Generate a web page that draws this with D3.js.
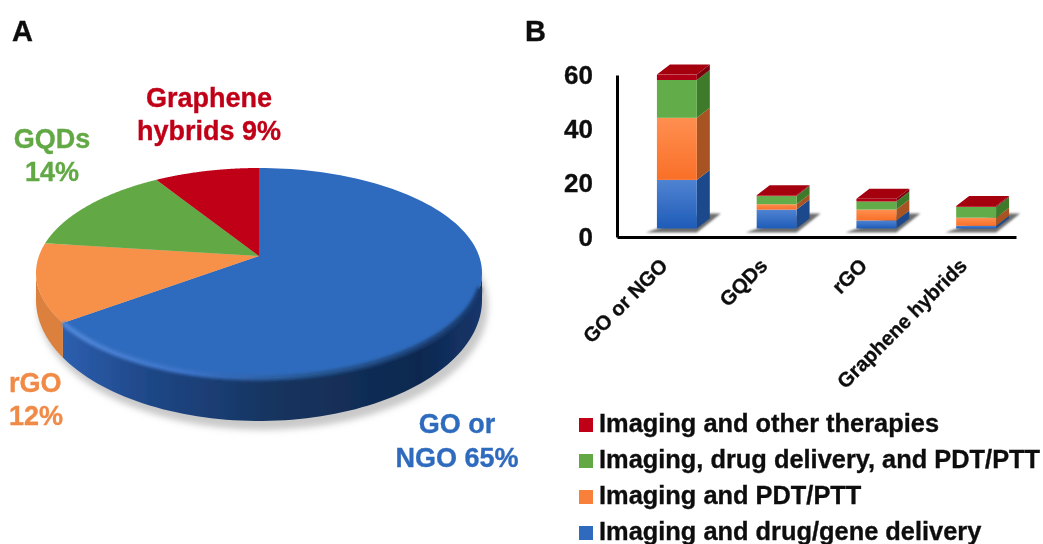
<!DOCTYPE html>
<html>
<head>
<meta charset="utf-8">
<script src="https://cdn.jsdelivr.net/npm/d3@7"></script>
<style>
    html, body { margin: 0; padding: 0; background: #fff; }
    text { font-family: "Liberation Sans", Arial, sans-serif; font-weight: bold; }
</style>
</head>
<body>
<svg id="chart" width="1043" height="544"></svg>
<script>
// panel A
const pieLabels = ["GO or NGO", "rGO", "GQDs", "Graphene hybrids"];
const pieValues = [65, 12, 14, 9];
const pieColors = ["#2f6bbd", "#f79149", "#62a945", "#c00018"];

// panel B
const categories = ["GO or NGO", "GQDs", "rGO", "Graphene hybrids"];
const seriesNames = ["Imaging and drug/gene delivery", "Imaging and PDT/PTT", "Imaging, drug delivery, and PDT/PTT", "Imaging and other therapies"];
const drugGene = [18, 7, 3, 1];
const pdtPtt = [23, 2, 4, 3];
const drugPdt = [14, 3, 3, 4];
const otherTherapies = [2, 0.3, 1, 0.3];
const yTicks = [0, 20, 40, 60];

const svg = d3.select("#chart");
const defs = svg.append("defs");

// the reference is a slightly soft raster
defs.append("filter").attr("id", "soft").append("feGaussianBlur").attr("stdDeviation", 0.55);
const shadowBlur = defs.append("filter").attr("id", "shadowBlur")
    .attr("x", "-20%").attr("y", "-50%").attr("width", "140%").attr("height", "200%");
shadowBlur.append("feGaussianBlur").attr("stdDeviation", 3);
const rimBlur = defs.append("filter").attr("id", "rimBlur")
    .attr("x", "-10%").attr("y", "-10%").attr("width", "120%").attr("height", "120%");
rimBlur.append("feGaussianBlur").attr("stdDeviation", 1.6);
const floorBlur = defs.append("filter").attr("id", "floorBlur")
    .attr("x", "-20%").attr("y", "-40%").attr("width", "140%").attr("height", "180%");
floorBlur.append("feGaussianBlur").attr("stdDeviation", 1);

function gradient(id, stops, x1, x2, y1, y2, userSpace) {
    const g = defs.append("linearGradient").attr("id", id)
        .attr("x1", x1).attr("x2", x2).attr("y1", y1).attr("y2", y2);
    if (userSpace) g.attr("gradientUnits", "userSpaceOnUse");
    stops.forEach(s => g.append("stop").attr("offset", s[0]).attr("stop-color", s[1]));
}

const root = svg.append("g").attr("filter", "url(#soft)");

root.append("text").attr("x", 12).attr("y", 41).attr("font-size", 29).attr("fill", "#111").text("A");
root.append("text").attr("x", 525).attr("y", 41).attr("font-size", 29).attr("fill", "#111").text("B");

/* ---------- Panel A: tilted pie ---------- */
const pieGeo = {cx: 259, cy: 273, rx: 223, ry: 105, apexY: 256, k: 0.47, bottomCy: 300, bottomRy: 121};

// ray from the apex at pie angle a, cut with the top ellipse
function rimPoint(a) {
    const dx = Math.sin(a), dy = -Math.cos(a) * pieGeo.k;
    const oy = pieGeo.apexY - pieGeo.cy;
    const A = dx * dx / (pieGeo.rx * pieGeo.rx) + dy * dy / (pieGeo.ry * pieGeo.ry);
    const B = 2 * oy * dy / (pieGeo.ry * pieGeo.ry);
    const C = oy * oy / (pieGeo.ry * pieGeo.ry) - 1;
    const t = (-B + Math.sqrt(B * B - 4 * A * C)) / (2 * A);
    return [pieGeo.cx + t * dx, pieGeo.apexY + t * dy];
}
const topEdge = f => [pieGeo.cx + pieGeo.rx * Math.sin(f), pieGeo.cy - pieGeo.ry * Math.cos(f)];
const bottomEdge = f => [pieGeo.cx + pieGeo.rx * Math.sin(f), pieGeo.bottomCy - pieGeo.bottomRy * Math.cos(f)];
const line = d3.line();
const sweep = (a, b, n) => d3.range(n + 1).map(i => a + (b - a) * i / n);

const arcs = d3.pie().sort(null).startAngle(0).endAngle(2 * Math.PI)(pieValues);

// ground shadow
root.append("ellipse")
    .attr("cx", pieGeo.cx + 4).attr("cy", pieGeo.bottomCy + 6)
    .attr("rx", pieGeo.rx + 2).attr("ry", pieGeo.bottomRy + 3)
    .attr("fill", "#c9c9c9").attr("filter", "url(#shadowBlur)");

gradient("blueSide", [[0, "#2c5eae"], [0.2, "#1f4787"], [0.5, "#16345f"], [0.85, "#0e2850"], [1, "#15356a"]], 65, 482, 0, 0, true);
gradient("rimLight", [[0, "#4f86d8"], [0.3, "#3a72c8"], [0.6, "#25558f"], [1, "#17386c"]], 65, 482, 0, 0, true);

const seam = Math.PI + Math.asin((pieGeo.cx - rimPoint(arcs[0].endAngle)[0]) / pieGeo.rx);
const band = (a, b) => line(sweep(a, b, 80).map(topEdge).concat(sweep(b, a, 80).map(bottomEdge))) + "Z";

root.append("path").attr("d", band(Math.PI / 2, seam)).attr("fill", "url(#blueSide)");
root.append("path").attr("d", band(seam, 1.5 * Math.PI)).attr("fill", "#dc813d");

root.selectAll(".slice")
    .data(arcs)
    .join("path")
    .attr("class", "slice")
    .attr("fill", (d, i) => pieColors[i])
    .attr("d", d => {
        const rim = sweep(d.startAngle, d.endAngle, 120).map(rimPoint);
        return line([[pieGeo.cx, pieGeo.apexY]].concat(rim)) + "Z";
    });

// soft bevel along the front of the blue slice
root.append("path")
    .attr("d", line(sweep(seam, Math.PI / 2 + 0.14, 120).map(topEdge)))
    .attr("fill", "none")
    .attr("stroke", "url(#rimLight)")
    .attr("stroke-width", 5)
    .attr("filter", "url(#rimBlur)");

const pieText = [
    {lines: ["GO or", "NGO 65%"], x: 457, y: [433, 467], anchor: "middle", i: 0},
    {lines: ["rGO", "12%"], x: 9, y: [392, 425], anchor: "start", i: 1},
    {lines: ["GQDs", "14%"], x: 52, y: [148, 181], anchor: "middle", i: 2},
    {lines: ["Graphene", "hybrids 9%"], x: 209, y: [107, 140], anchor: "middle", i: 3},
];
pieText.forEach(t => t.lines.forEach((s, j) => {
    root.append("text")
        .attr("x", t.x).attr("y", t.y[j])
        .attr("text-anchor", t.anchor)
        .attr("font-size", 27)
        .attr("fill", pieColors[t.i] === "#f79149" ? "#f08a47" : pieColors[t.i])
        .text(s);
}));

/* ---------- Panel B: 3D-style stacked bars ---------- */
const rows = categories.map((c, i) => ({
    category: c,
    [seriesNames[0]]: drugGene[i],
    [seriesNames[1]]: pdtPtt[i],
    [seriesNames[2]]: drugPdt[i],
    [seriesNames[3]]: otherTherapies[i],
}));
const stacked = d3.stack().keys(seriesNames)(rows);

const barCfg = {left: 617, right: 1016, floor: 237, top: 75, floorShift: -8.5, barOffset: 10, depthX: 13, depthY: -10};

const xScale = d3.scaleBand().domain(categories).range([barCfg.left, barCfg.right]).paddingInner(0.6).paddingOuter(0.3);
const yScale = d3.scaleLinear().domain([0, 60]).range([barCfg.floor, barCfg.top]);
const barColor = d3.scaleOrdinal().domain(seriesNames).range(["#2f6bbd", "#f8803a", "#62a945", "#c00018"]);
const sideColor = d3.scaleOrdinal().domain(seriesNames).range(["#1f4a8c", "#a85220", "#3c7a2c", "#7a000c"]);
const frontStops = [
    [[0, "#5083d2"], [1, "#1e5cb8"]],
    [[0, "#ff8f50"], [1, "#f96f28"]],
    [[0, "#62ad48"], [1, "#62ad48"]],
    [[0, "#b00012"], [1, "#b00012"]],
];
seriesNames.forEach((s, i) => gradient("front" + i, frontStops[i], 0, 0, 0, 1, false));

const barX = c => xScale(c) + barCfg.barOffset;
const barY = v => yScale(v) + barCfg.floorShift;
const bw = xScale.bandwidth();

const bars = root.append("g").attr("class", "bars");

// floor shadows
bars.selectAll(".bar-shadow")
    .data(categories)
    .join("path")
    .attr("class", "bar-shadow")
    .attr("fill", "#6e6e6e")
    .attr("filter", "url(#floorBlur)")
    .attr("d", c => {
        const x0 = barX(c), y0 = barY(0);
        return line([[x0 - 11, y0 + 4], [x0 + bw, y0 + 4], [x0 + bw + 24, y0 - 15], [x0 + bw + 6, y0 - 15]]) + "Z";
    });

const layers = bars.selectAll(".layer")
    .data(stacked)
    .join("g")
    .attr("class", "layer");

// right hand side of each block
layers.selectAll(".side")
    .data(d => d.map(p => ({key: d.key, p: p})))
    .join("path")
    .attr("class", "side")
    .attr("fill", d => sideColor(d.key))
    .attr("d", d => {
        const x1 = barX(d.p.data.category) + bw, y0 = barY(d.p[0]), y1 = barY(d.p[1]);
        return line([[x1, y0], [x1 + barCfg.depthX, y0 + barCfg.depthY], [x1 + barCfg.depthX, y1 + barCfg.depthY], [x1, y1]]) + "Z";
    });

layers.selectAll(".front")
    .data((d, i) => d.map(p => ({i: i, p: p})))
    .join("rect")
    .attr("class", "front")
    .attr("fill", d => `url(#front${d.i})`)
    .attr("x", d => barX(d.p.data.category))
    .attr("width", bw)
    .attr("y", d => barY(d.p[1]))
    .attr("height", d => barY(d.p[0]) - barY(d.p[1]));

// lid on top of the stack
bars.selectAll(".lid")
    .data(stacked[stacked.length - 1])
    .join("path")
    .attr("class", "lid")
    .attr("fill", "#a50010")
    .attr("d", p => {
        const x0 = barX(p.data.category), y = barY(p[1]);
        return line([[x0, y], [x0 + bw, y], [x0 + bw + barCfg.depthX, y + barCfg.depthY], [x0 + barCfg.depthX, y + barCfg.depthY]]) + "Z";
    });

// axes
const yAxisG = root.append("g")
    .attr("transform", `translate(${barCfg.left},0)`)
    .call(d3.axisLeft(yScale).tickValues(yTicks).tickSize(0).tickPadding(24).tickSizeOuter(0));
const xAxisG = root.append("g")
    .attr("transform", `translate(0,${barCfg.floor})`)
    .call(d3.axisBottom(xScale).tickSize(0).tickSizeOuter(0));

yAxisG.selectAll("text").attr("font-size", 26).attr("font-family", null).attr("fill", "#111");
xAxisG.selectAll("text")
    .attr("font-size", 20.3)
    .attr("font-family", null)
    .attr("fill", "#111")
    .attr("y", 0).attr("dy", "0.35em")
    .attr("text-anchor", "end")
    .attr("transform", "translate(-3,25) rotate(-45)");
root.selectAll(".domain").attr("stroke", "#000").attr("stroke-width", 3);

// legend, top entry is the last series
const legendY = d3.scalePoint().domain(seriesNames.slice().reverse()).range([432, 540]);
const legend = root.selectAll(".legend-item")
    .data(seriesNames)
    .join("g")
    .attr("class", "legend-item")
    .attr("transform", d => `translate(579,${legendY(d)})`);
legend.append("rect")
    .attr("y", -14).attr("width", 14).attr("height", 14)
    .attr("fill", d => barColor(d));
legend.append("text")
    .attr("x", 20)
    .attr("font-size", 25.4)
    .attr("fill", "#111")
    .text(d => d);

// heavier glyphs, the blur thins them otherwise
root.selectAll("text")
    .attr("stroke", function() { return this.getAttribute("fill"); })
    .attr("stroke-width", 0.35);
</script>
</body>
</html>
